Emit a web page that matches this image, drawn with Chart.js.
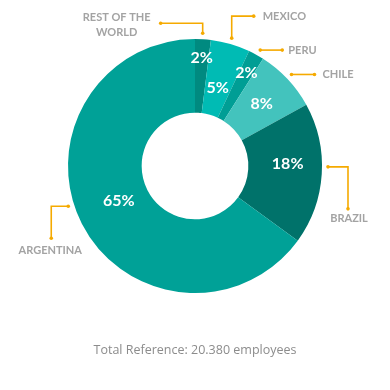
<!DOCTYPE html>
<html>
<head>
<meta charset="utf-8">
<script src="https://cdn.jsdelivr.net/npm/chart.js@4"></script>
<style>
  html, body { margin: 0; padding: 0; background: #fff; }
  #wrap { position: relative; width: 390px; height: 390px; }
  #total {
    position: absolute; left: 0; top: 341px; width: 390px; text-align: center;
    font-family: "Open Sans", sans-serif; font-size: 12.5px; color: #8c8c8c;
  }
</style>
</head>
<body>
<div id="wrap">
  <canvas id="chart" width="390" height="390"></canvas>
  <div id="total">Total Reference: 20.380 employees</div>
</div>
<script>
// employees by country, clockwise from 12 o'clock
const countries = ['REST OF THE WORLD', 'MEXICO', 'PERU', 'CHILE', 'BRAZIL', 'ARGENTINA'];
const shares = [2, 5, 2, 8, 18, 65];
const sliceColors = ['#008a80', '#00bbb4', '#009e95', '#43c3bd', '#00726a', '#00a197'];

// where the white % text sits inside each slice (angle fraction, share of outer radius)
const pctT = [0.5, 0.5, 0.5, 0.5, 0.42, 0.51];
const pctRadius = [0.85, 0.64, 0.84, 0.72, 0.73, 0.66];
// leader lines, relative to a point just outside the slice edge
const callouts = [
  { t: 0.46, path: [[0, -10], [-42, -10]], text: ['REST OF THE', 'WORLD'], tx: -86, ty: -16, align: 'center' },
  { t: 0.49, path: [[0, -22], [22, -22]], text: ['MEXICO'], tx: 31, ty: -22, align: 'left' },
  { t: 0.58, path: [[22, 0]], text: ['PERU'], tx: 28, ty: 0, align: 'left' },
  { t: 0.49, path: [[23, 0]], text: ['CHILE'], tx: 31, ty: 0, align: 'left' },
  { t: 0.45, path: [[20, 0], [20, 42]], text: ['BRAZIL'], tx: 21, ty: 52, align: 'center' },
  { t: 0.54, path: [[-17, 0], [-17, 32]], text: ['ARGENTINA'], tx: -18, ty: 44, align: 'center' }
];

const labelPlugin = {
  id: 'sliceLabels',
  afterDatasetsDraw(chart) {
    const ctx = chart.ctx;
    const arcs = chart.getDatasetMeta(0).data;
    ctx.save();
    arcs.forEach((arc, i) => {
      const { x, y, startAngle, endAngle, outerRadius } = arc.getProps(
        ['x', 'y', 'startAngle', 'endAngle', 'outerRadius'], true);
      // percentage
      const mid = startAngle + pctT[i] * (endAngle - startAngle);
      const r = outerRadius * pctRadius[i];
      ctx.fillStyle = '#ffffff';
      ctx.font = 'bold 16px Lato, sans-serif';
      ctx.textAlign = 'center';
      ctx.textBaseline = 'middle';
      ctx.fillText(shares[i] + '%', x + Math.cos(mid) * r, y + Math.sin(mid) * r);

      // leader line
      const c = callouts[i];
      const a = startAngle + c.t * (endAngle - startAngle);
      const ax = x + Math.cos(a) * (outerRadius + 6);
      const ay = y + Math.sin(a) * (outerRadius + 6);
      ctx.strokeStyle = '#f5aa00';
      ctx.fillStyle = '#f5aa00';
      ctx.lineWidth = 1.6;
      ctx.beginPath();
      ctx.moveTo(ax, ay);
      c.path.forEach(p => ctx.lineTo(ax + p[0], ay + p[1]));
      ctx.stroke();
      const last = c.path[c.path.length - 1];
      [[0, 0], last].forEach(p => {
        ctx.beginPath();
        ctx.arc(ax + p[0], ay + p[1], 1.8, 0, Math.PI * 2);
        ctx.fill();
      });

      // country name
      ctx.fillStyle = '#a3a3a3';
      ctx.font = 'bold 11px Lato, sans-serif';
      ctx.textAlign = c.align;
      c.text.forEach((line, k) => {
        ctx.fillText(line, ax + c.tx, ay + c.ty + k * 15);
      });
    });
    ctx.restore();
  }
};

new Chart(document.getElementById('chart').getContext('2d'), {
  type: 'doughnut',
  data: {
    labels: countries,
    datasets: [{
      data: shares,
      backgroundColor: sliceColors,
      borderWidth: 0
    }]
  },
  options: {
    responsive: false,
    animation: false,
    cutout: '42%',
    layout: { padding: { left: 68, right: 68, top: 39, bottom: 97 } },
    plugins: { legend: { display: false }, tooltip: { enabled: false } }
  },
  plugins: [labelPlugin]
});
</script>
</body>
</html>
